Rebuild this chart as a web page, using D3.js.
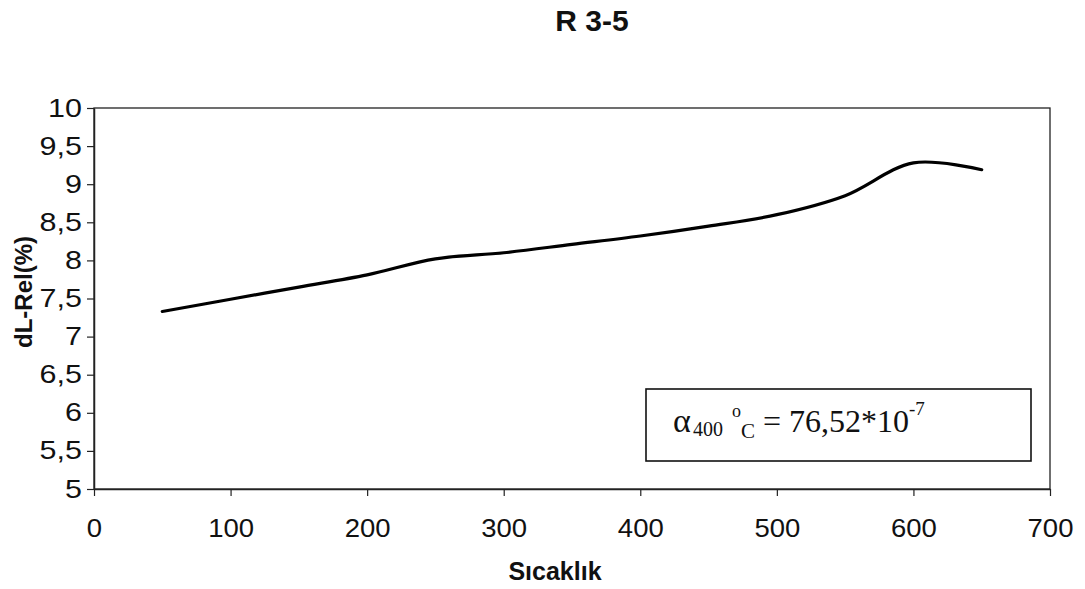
<!DOCTYPE html>
<html>
<head>
<meta charset="utf-8">
<script src="https://cdn.jsdelivr.net/npm/d3@7"></script>
<style>
  html, body { margin: 0; padding: 0; background: #fff; }
  svg { display: block; }
</style>
</head>
<body>
<svg id="chart" width="1085" height="589"></svg>
<script>
// Relative length change vs. temperature, sample R 3-5
const temperatures = [50, 100, 150, 200, 250, 300, 350, 400, 450, 500, 550, 600, 650];
const dLRel = [7.33, 7.49, 7.65, 7.81, 8.02, 8.10, 8.21, 8.32, 8.45, 8.60, 8.85, 9.28, 9.19];
const xTicks = [0, 100, 200, 300, 400, 500, 600, 700];
const yTicks = [5, 5.5, 6, 6.5, 7, 7.5, 8, 8.5, 9, 9.5, 10];

const svg = d3.select("#chart");
const plot = { left: 94, right: 1050, top: 108, bottom: 489 };

const x = d3.scaleLinear().domain([0, 700]).range([plot.left, plot.right]);
const y = d3.scaleLinear().domain([5, 10]).range([plot.bottom, plot.top]);

const fmt = d => String(d).replace(".", ",");
const sans = "'Liberation Sans', Arial, sans-serif";

// plot frame
svg.append("rect")
  .attr("x", plot.left).attr("y", plot.top)
  .attr("width", plot.right - plot.left).attr("height", plot.bottom - plot.top)
  .attr("fill", "none").attr("stroke", "#222").attr("stroke-width", 1.3);

// x axis
const gx = svg.append("g")
  .attr("transform", `translate(0,${plot.bottom})`)
  .call(d3.axisBottom(x).tickValues(xTicks).tickFormat(fmt).tickSize(7).tickSizeOuter(0).tickPadding(0));
gx.select(".domain").attr("stroke", "#222").attr("stroke-width", 1.5);
gx.selectAll(".tick line").attr("stroke", "#222").attr("stroke-width", 1.2);
gx.selectAll(".tick text")
  .attr("y", 0).attr("dy", null)
  .attr("transform", "translate(0,48) scale(1.1,1)")
  .attr("font-family", sans).attr("font-size", 25).attr("fill", "#111");

// y axis
const gy = svg.append("g")
  .attr("transform", `translate(${plot.left},0)`)
  .call(d3.axisLeft(y).tickValues(yTicks).tickFormat(fmt).tickSize(7).tickSizeOuter(0).tickPadding(0));
gy.select(".domain").attr("stroke", "#222").attr("stroke-width", 1.5);
gy.selectAll(".tick line").attr("stroke", "#222").attr("stroke-width", 1.2);
gy.selectAll(".tick text")
  .attr("x", 0)
  .attr("transform", "translate(-12,0) scale(1.22,1)")
  .attr("font-family", sans).attr("font-size", 25).attr("fill", "#111");

// smoothed curve
const line = d3.line()
  .x((d, i) => x(temperatures[i]))
  .y(d => y(d))
  .curve(d3.curveCatmullRom.alpha(0.5));

svg.append("path")
  .datum(dLRel)
  .attr("d", line)
  .attr("fill", "none")
  .attr("stroke", "#000")
  .attr("stroke-width", 3.2)
  .attr("stroke-linecap", "round")
  .attr("stroke-linejoin", "round");

// title
svg.append("text")
  .attr("x", 592).attr("y", 31)
  .attr("text-anchor", "middle")
  .attr("font-family", sans).attr("font-weight", "bold").attr("font-size", 30)
  .attr("fill", "#111")
  .text("R 3-5");

// axis titles
svg.append("text")
  .attr("x", 555).attr("y", 580)
  .attr("text-anchor", "middle")
  .attr("font-family", sans).attr("font-weight", "bold").attr("font-size", 25)
  .attr("fill", "#111")
  .text("Sıcaklık");

svg.append("text")
  .attr("transform", "translate(32,292) rotate(-90)")
  .attr("text-anchor", "middle")
  .attr("font-family", sans).attr("font-weight", "bold").attr("font-size", 24)
  .attr("fill", "#111")
  .text("dL-Rel(%)");

// expansion coefficient annotation
const box = { x: 646, y: 389, w: 385, h: 72 };
svg.append("rect")
  .attr("x", box.x).attr("y", box.y).attr("width", box.w).attr("height", box.h)
  .attr("fill", "#fff").attr("stroke", "#111").attr("stroke-width", 1.6);

const serif = "'Liberation Serif', 'Times New Roman', serif";
const note = svg.append("g").attr("font-family", serif).attr("fill", "#111");
note.append("text").attr("x", 673).attr("y", 432).attr("font-size", 34).text("α");
note.append("text").attr("x", 693).attr("y", 436).attr("font-size", 20).text("400");
note.append("text").attr("x", 732).attr("y", 417).attr("font-size", 18).text("o");
note.append("text").attr("x", 741).attr("y", 438).attr("font-size", 21).text("C");
note.append("text").attr("x", 763).attr("y", 432).attr("font-size", 32).text("= 76,52*10");
note.append("text").attr("x", 909).attr("y", 415).attr("font-size", 19).text("-7");
</script>
</body>
</html>
